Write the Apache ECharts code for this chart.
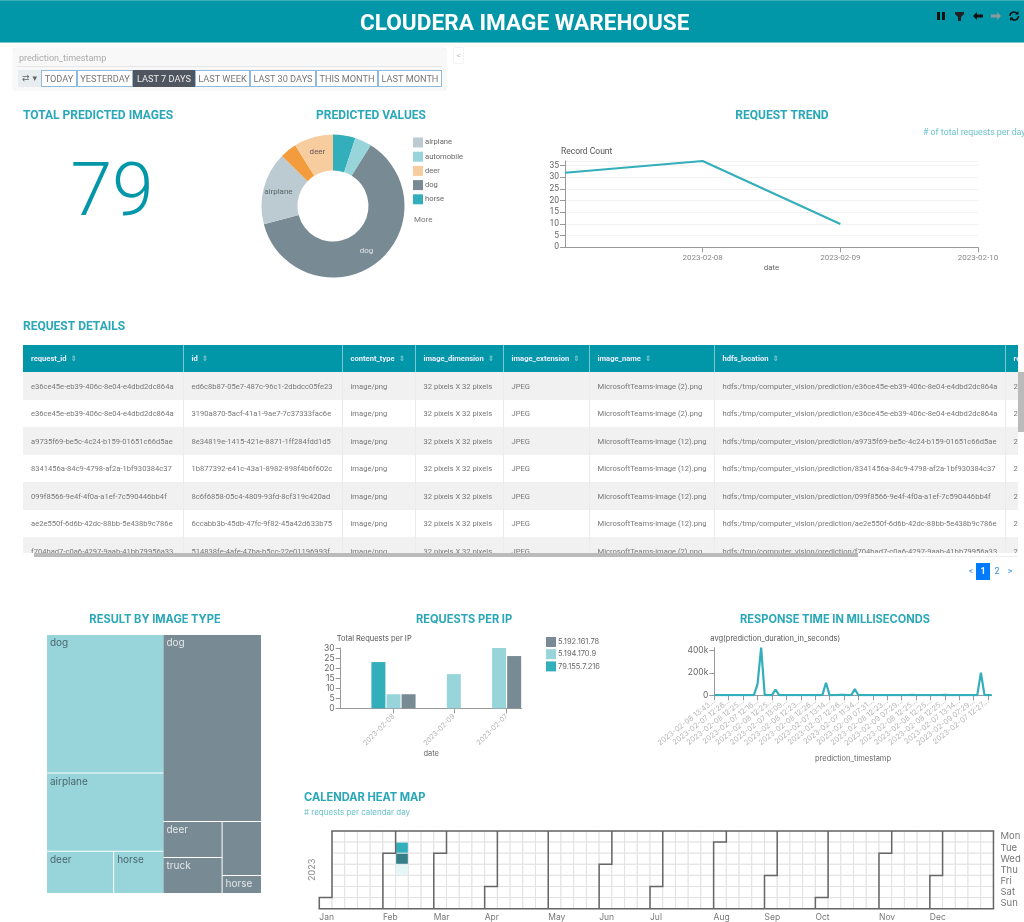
<!DOCTYPE html>
<html>
<head>
<meta charset="utf-8">
<title>Cloudera Image Warehouse</title>
<script src="https://cdn.jsdelivr.net/npm/echarts@6/dist/echarts.min.js"></script>
<style>
html, body { margin: 0; padding: 0; background: #fff; }
#page { position: relative; width: 1024px; height: 922px; overflow: hidden; font-family: Roboto, sans-serif; }
#chart { position: absolute; left: 0; top: 0; width: 1024px; height: 922px; }
#header { position: absolute; left: 0; top: 0; width: 1024px; height: 43px; background: #0297a8; border-top: 1px solid #3fb0bd; box-sizing: border-box; border-bottom: 1px solid #7cc8d1; color: #fff; font-weight: 700; font-size: 22.6px; line-height: 44px; }
#header .name { position: absolute; left: 360px; top: 0; white-space: nowrap; }
#header svg { position: absolute; left: 934px; top: 8px; }
#filter { position: absolute; left: 13px; top: 48px; width: 433px; height: 42px; background: #f8f8f8; border-radius: 3px; box-shadow: 0 0 1px #ccc; }
#filter .label { position: absolute; left: 6px; top: 5px; font-size: 9px; color: #aaa; }
#filter .rule { position: absolute; left: 4px; right: 4px; top: 18px; border-top: 1px solid #e6e6e6; }
#filter .sw { position: absolute; left: 5px; top: 22px; width: 23px; height: 17px; background: #e8edf0; color: #666; font: 9px/17px "DejaVu Sans", sans-serif; text-align: center; }
#filter .btn { position: absolute; top: 22px; height: 17px; box-sizing: border-box; border: 1px solid #8fbadb; background: #fff; color: #777; font-size: 9.2px; line-height: 15px; text-align: center; white-space: nowrap; }
#filter .btn.on { background: #4f5660; color: #eee; border-color: #4f5660; }
#collapse { position: absolute; left: 454px; top: 48px; width: 9px; height: 15px; box-shadow: 0 0 1px #bbb; color: #bbb; font-size: 8px; line-height: 15px; text-align: center; }
#tableWrap { position: absolute; left: 23px; top: 345px; width: 995px; height: 208px; overflow: hidden; }
#tableWrap table { border-collapse: collapse; table-layout: fixed; width: 1010px; font-size: 7.6px; color: #777; }
#tableWrap th { height: 27px; background: #0297a8; color: #eef; font-size: 7.6px; font-weight: 700; text-align: left; padding: 0 0 0 8px; border-right: 1px solid #7cc8d1; white-space: nowrap; overflow: hidden; }
#tableWrap th i { font-style: normal; color: #7cc8d1; margin-left: 4px; font-family: "DejaVu Sans", sans-serif; }
#tableWrap td { height: 27.5px; padding: 1px 0 0 8px; box-sizing: border-box; border-right: 1px solid #e8ecef; white-space: nowrap; overflow: hidden; }
#tableWrap tr:nth-child(even) td { background: #f1f1f1; }
#hbar { position: absolute; left: 34px; top: 553px; width: 824px; height: 4px; background: #bbb; }
#hline { position: absolute; left: 858px; top: 556px; width: 160px; height: 1px; background: #eee; }
#vbar { position: absolute; left: 1018px; top: 372px; width: 6px; height: 60px; background: #bbb; }
#pager { position: absolute; top: 563px; height: 17px; font-size: 9px; line-height: 17px; color: #3d8fe0; }
#pager span { position: absolute; top: 0; text-align: center; }
#pager .on { background: #007bff; color: #fff; font-weight: 700; width: 14px; }
</style>
</head>
<body>
<div id="page">
  <div id="chart"></div>
  <div id="header">
    <div class="name">CLOUDERA IMAGE WAREHOUSE</div>
    <svg width="90" height="14" viewBox="0 0 90 14">
      <path d="M3 3h3v8H3zM8 3h3v8H8z" fill="#111"/>
      <path d="M21 3h9v2l-3 3v4h-3V8l-3-3z" fill="#222"/>
      <path d="M39 7l4-4v2.6h6v2.8h-6V11z" fill="#111"/>
      <path d="M67 7l-4-4v2.6h-6v2.8h6V11z" fill="#8a9a9a"/>
      <path d="M76 7a4 4 0 0 1 7-2.6M84.500 7a4 4 0 0 1-7 2.600" fill="none" stroke="#111" stroke-width="1.600"/>
      <path d="M84.500 2v3.500H81zM76 12V8.500h3.500z" fill="#111"/>
    </svg>
  </div>
  <div id="filter">
    <div class="label">prediction_timestamp</div>
    <div class="rule"></div>
    <div class="sw">⇄ ▾</div>
  </div>
  <div id="collapse">&lt;</div>
  <div id="tableWrap"><table id="details"></table></div>
  <div id="hbar"></div>
  <div id="hline"></div>
  <div id="vbar"></div>
  <div id="pager" style="left:966px;width:54px">
    <span style="left:0;width:10px">&lt;</span>
    <span class="on" style="left:10px">1</span>
    <span style="left:26px;width:10px">2</span>
    <span style="left:39px;width:10px">&gt;</span>
  </div>
</div>

<script>
// ---- data ----
var filterRanges = ["TODAY", "YESTERDAY", "LAST 7 DAYS", "LAST WEEK", "LAST 30 DAYS", "THIS MONTH", "LAST MONTH"];

var totalPredicted = 79;

var pieNames = ["horse", "automobile", "dog", "airplane", "truck", "deer"];
var pieValues = [4, 3, 49, 13, 3, 7];
var pieLegend = ["airplane", "automobile", "deer", "dog", "horse"];

var trendDates = ["2023-02-07", "2023-02-08", "2023-02-09", "2023-02-10"];
var trendCounts = [32, 37, 10, null];

var tableColumns = ["request_id", "id", "content_type", "image_dimension", "image_extension", "image_name", "hdfs_location", "req"];
var requestIds = [
  "e36ce45e-eb39-406c-8e04-e4dbd2dc864a",
  "e36ce45e-eb39-406c-8e04-e4dbd2dc864a",
  "a9735f69-be5c-4c24-b159-01651c66d5ae",
  "8341456a-84c9-4798-af2a-1bf930384c37",
  "099f8566-9e4f-4f0a-a1ef-7c590446bb4f",
  "ae2e550f-6d6b-42dc-88bb-5e438b9c786e",
  "f704bad7-c0a6-4297-9aab-41bb79956a33"
];
var imageIds = [
  "ed6c8b87-05e7-487c-96c1-2dbdcc05fe23",
  "3190a870-5acf-41a1-9ae7-7c37333fac6e",
  "8e34819e-1415-421e-8871-1ff284fdd1d5",
  "1b877392-e41c-43a1-8982-898f4b6f602c",
  "8c6f6858-05c4-4809-93fd-8cf319c420ad",
  "6ccabb3b-45db-47fc-9f82-45a42d633b75",
  "514838fe-4afe-47ba-b5cc-22e01196993f"
];
var imageNames = [
  "MicrosoftTeams-image (2).png",
  "MicrosoftTeams-image (2).png",
  "MicrosoftTeams-image (12).png",
  "MicrosoftTeams-image (12).png",
  "MicrosoftTeams-image (12).png",
  "MicrosoftTeams-image (12).png",
  "MicrosoftTeams-image (2).png"
];

var treeLeftNames = ["dog", "airplane", "deer", "horse"];
var treeLeftValues = [23, 13, 4, 3];
// the treemap sort flips ties, hence automobile before deer here
var treeRightNames = ["dog", "automobile", "truck", "deer", "horse"];
var treeRightValues = [26, 3, 3, 3, 1];

var ipDates = ["2023-02-08", "2023-02-09", "2023-02-07"];
var ipNames = ["5.192.161.78", "5.194.170.9", "79.155.7.216"];
var ip5192 = [7, null, 26];
var ip5194 = [7, 17, 30];
var ip79155 = [23, null, null];

var responseTicks = [
  "2023-02-08 13:43...", "2023-02-07 12:26...", "2023-02-08 12:25...", "2023-02-07 12:16...",
  "2023-02-08 12:25...", "2023-02-07 13:09...", "2023-02-08 12:23...", "2023-02-08 12:26...",
  "2023-02-07 13:14...", "2023-02-07 12:26...", "2023-02-07 11:34...", "2023-02-09 07:31...",
  "2023-02-08 12:23...", "2023-02-09 07:29...", "2023-02-08 12:25...", "2023-02-08 12:25...",
  "2023-02-08 12:25...", "2023-02-07 13:14...", "2023-02-09 07:29...", "2023-02-07 12:27..."
];
var responseValues = [
  2000, 1500, 1000, 2000, 1500, 1000, 1500, 1000, 1200, 1000,
  1500, 2000, 100000, 425000, 1500, 1000, 1200, 52000, 1000, 1500,
  1500, 2000, 1500, 1000, 1200, 1000, 1500, 1000, 1000, 1500,
  1200, 112000, 1500, 1000, 2000, 3000, 3500, 1500, 1000, 55000,
  1000, 1200, 1000, 1500, 1000, 1000, 1200, 1500, 1000, 1000,
  1200, 1000, 1500, 1000, 2000, 4500, 1500, 1000, 1000, 1200,
  1000, 1500, 1000, 2000, 3000, 1500, 1000, 1000, 1200, 1000,
  1500, 1000, 1000, 1200, 203000, 1500, 1000, 2000
];

var calendarYear = "2023";
var calendarDays = ["2023-02-07", "2023-02-08", "2023-02-09"];
var calendarCounts = [32, 37, 10];
var dayNames = ["Sun", "Mon", "Tue", "Wed", "Thu", "Fri", "Sat"];

// ---- colours ----
var TEAL = "#33aebb";
var LIGHT = "#98d5db";
var SLATE = "#788a94";
var HEAD = "#2aa8b8";
var pieColors = { horse: TEAL, automobile: LIGHT, dog: SLATE, airplane: "#bccad1", truck: "#f39c3e", deer: "#f7cd9f" };
var pieLabelled = { dog: "#e4e8ea", airplane: "#566", deer: "#655" };
var ipColors = [SLATE, LIGHT, TEAL];

// ---- dom bits: filter bar and table ----
var btnLefts = [28, 64, 120, 182, 237, 303, 365];
var btnWidths = [36, 56, 62, 55, 66, 62, 64];
var filterEl = document.getElementById("filter");
filterRanges.forEach(function (label, i) {
  var b = document.createElement("div");
  b.className = "btn" + (label === "LAST 7 DAYS" ? " on" : "");
  b.style.left = btnLefts[i] + "px";
  b.style.width = btnWidths[i] + "px";
  b.textContent = label;
  filterEl.appendChild(b);
});

var colWidths = [160, 159, 73, 88, 86, 125, 291, 28];
var html = "<colgroup>" + colWidths.map(function (w) { return '<col style="width:' + w + 'px">'; }).join("") + "</colgroup>";
html += "<tr>" + tableColumns.map(function (c, i) {
  return "<th>" + c + (i < 7 ? "<i>⇕</i>" : "") + "</th>";
}).join("") + "</tr>";
requestIds.forEach(function (rid, i) {
  var row = [rid, imageIds[i], "image/png", "32 pixels X 32 pixels", "JPEG", imageNames[i],
    "hdfs:/tmp/computer_vision/prediction/" + rid, "2023-02-08"];
  html += "<tr>" + row.map(function (v) { return "<td>" + v + "</td>"; }).join("") + "</tr>";
});
document.getElementById("details").innerHTML = html;

// ---- bars per ip: only the dates' present ips get a slot, so groups differ in width ----
var ipSeriesValues = [ip5192, ip5194, ip79155];
var ipPoints = [[], [], []];
var ipTickAt = [];
var slot = 0;
ipDates.forEach(function (d, di) {
  slot += 2;
  var first = slot;
  for (var s = ipNames.length - 1; s >= 0; s--) {
    if (ipSeriesValues[s][di] != null) {
      ipPoints[s].push([slot + 0.5, ipSeriesValues[s][di]]);
      slot++;
    }
  }
  ipTickAt.push(first + (slot - first) / 2);
});

function heading(text, x, y, align, size, color, family, weight) {
  return {
    text: text, left: x, top: y - (size || 12) / 2, textAlign: align || "left", padding: 0,
    textStyle: { fontFamily: family || "Roboto", fontSize: size || 12, fontWeight: weight || 700, color: color || HEAD, lineHeight: size || 12 }
  };
}

var axisText = { fontFamily: "Roboto", fontSize: 8.5, color: "#666" };
var faintText = { fontFamily: "Inter", fontSize: 7.4, color: "#b5b5b5" };
var axisLine = { lineStyle: { color: "#999" } };

function treeSeries(names, values, left, width, fill, textColor) {
  return {
    type: "treemap", left: left, top: 635, width: width, height: 258,
    breadcrumb: { show: false }, roam: false, nodeClick: false, silent: true, squareRatio: 1,
    levels: [{ color: [fill], colorMappingBy: "id", itemStyle: { gapWidth: 1, borderWidth: 0 } }],
    label: { show: true, position: "insideTopLeft", distance: 3, padding: 0, formatter: "{b}", fontFamily: "Inter", fontSize: 10, color: textColor },
    data: names.map(function (n, i) {
      var item = { name: n, value: values[i] };
      if (n === "automobile") item.label = { show: false };
      return item;
    })
  };
}

var treeTotal = treeLeftValues.concat(treeRightValues).reduce(function (a, b) { return a + b; }, 0);
var treeLeftSum = treeLeftValues.reduce(function (a, b) { return a + b; }, 0);
var treeLeftWidth = 214 * treeLeftSum / treeTotal;

var chart = echarts.init(document.getElementById("chart"));
chart.setOption({
  animation: false,
  title: [
    heading("TOTAL PREDICTED IMAGES", 23, 116),
    heading("PREDICTED VALUES", 371, 116, "center"),
    heading("REQUEST TREND", 782, 116, "center"),
    heading("# of total requests per day", 923, 133, "left", 8.8, "#6cc2cc", "Roboto", 400),
    heading("REQUEST DETAILS", 23, 327),
    heading(String(totalPredicted), 112, 196, "center", 75, "#0297a8", "Roboto", 300),
    heading("More", 414, 220, "left", 8, "#777", "Roboto", 400),
    heading("RESULT BY IMAGE TYPE", 155, 620, "center", 11.1, HEAD, "Inter"),
    heading("REQUESTS PER IP", 464, 620, "center", 11.1, HEAD, "Inter"),
    heading("RESPONSE TIME IN MILLISECONDS", 835, 620, "center", 11.1, HEAD, "Inter"),
    heading("CALENDAR HEAT MAP", 304, 798, "left", 11.1, HEAD, "Inter"),
    heading("# requests per calendar day", 304, 813, "left", 8, "#6cc2cc", "Inter", 400)
  ],
  legend: [
    { left: 413, top: 137.5, orient: "vertical", itemWidth: 10, itemHeight: 10, itemGap: 4.2, icon: "rect", selectedMode: false,
      padding: 0, textStyle: { fontFamily: "Roboto", fontSize: 7.6, color: "#666", padding: [0, 0, 0, -3] }, data: pieLegend },
    { left: 546, top: 637, orient: "vertical", itemWidth: 10, itemHeight: 10, itemGap: 2.2, icon: "rect", selectedMode: false,
      padding: 0, textStyle: { fontFamily: "Inter", fontSize: 7.5, color: "#666", padding: [0, 0, 0, -3] }, data: ipNames }
  ],
  grid: [
    { left: 565, top: 161, width: 413, height: 86.3 },
    { left: 340.7, top: 648, width: 181, height: 60.3 },
    { left: 714.3, top: 647.7, width: 277.4, height: 47.6 }
  ],
  xAxis: [
    { gridIndex: 0, type: "category", boundaryGap: false, data: trendDates, name: "date", nameLocation: "middle", nameGap: 17,
      nameTextStyle: { fontFamily: "Roboto", fontSize: 8, color: "#666" }, axisLine: axisLine, axisTick: { alignWithLabel: true, lineStyle: { color: "#999" } },
      axisLabel: { showMinLabel: false, fontFamily: "Roboto", fontSize: 8, color: "#888", margin: 7 } },
    { gridIndex: 1, type: "value", min: 0, max: slot, splitLine: { show: false }, name: "date", nameLocation: "middle", nameGap: 41,
      nameTextStyle: { fontFamily: "Inter", fontSize: 7.5, color: "#666" }, axisLine: axisLine,
      axisTick: { customValues: ipTickAt, lineStyle: { color: "#999" } },
      axisLabel: { customValues: ipTickAt, rotate: 45, fontFamily: "Inter", fontSize: 7, color: "#b5b5b5", margin: 7,
        formatter: function (v) { return ipDates[ipTickAt.indexOf(v)]; } } },
    { gridIndex: 2, type: "category", boundaryGap: false,
      data: responseValues.map(function (v, i) { return i % 4 === 0 ? responseTicks[i / 4] : ""; }),
      name: "prediction_timestamp", nameLocation: "middle", nameGap: 59,
      nameTextStyle: { fontFamily: "Inter", fontSize: 7.5, color: "#666" }, axisLine: axisLine,
      axisTick: { interval: 3, lineStyle: { color: "#999" } },
      axisLabel: Object.assign({ interval: 3, rotate: 38, margin: 5 }, faintText) }
  ],
  yAxis: [
    { gridIndex: 0, type: "value", min: 0, max: 37, interval: 5, name: "Record Count", nameGap: 5,
      nameTextStyle: { fontFamily: "Roboto", fontSize: 8.5, color: "#555", align: "left", padding: [0, 0, 0, -4] },
      axisLine: { show: true, lineStyle: { color: "#999" } }, axisTick: { show: true, lineStyle: { color: "#999" } },
      axisLabel: Object.assign({ showMaxLabel: false, margin: 6 }, axisText), splitLine: { lineStyle: { color: "#f2f2f2" } } },
    { gridIndex: 1, type: "value", min: 0, max: 30, interval: 5, name: "Total Requests per IP", nameGap: 5,
      nameTextStyle: { fontFamily: "Inter", fontSize: 7.5, color: "#555", align: "left", padding: [0, 0, 0, -4] },
      axisLine: { show: true, lineStyle: { color: "#999" } }, axisTick: { show: true, lineStyle: { color: "#999" } },
      axisLabel: { fontFamily: "Inter", fontSize: 8.5, color: "#666", margin: 6 }, splitLine: { show: false } },
    { gridIndex: 2, type: "value", min: 0, max: 425000, interval: 200000, name: "avg(prediction_duration_in_seconds)", nameGap: 5,
      nameTextStyle: { fontFamily: "Inter", fontSize: 7.5, color: "#555", align: "left", padding: [0, 0, 0, -4] },
      axisLine: { show: true, lineStyle: { color: "#999" } }, axisTick: { show: true, lineStyle: { color: "#999" } },
      axisLabel: { showMaxLabel: false, fontFamily: "Inter", fontSize: 8.5, color: "#666", margin: 6,
        formatter: function (v) { return v === 0 ? "0" : v / 1000 + "k"; } }, splitLine: { show: false } }
  ],
  calendar: {
    left: 319.3, top: 831, cellSize: [12.72, 11.1], range: calendarYear, orient: "horizontal",
    itemStyle: { color: "#fff", borderColor: "#e2e2e2", borderWidth: 1 },
    splitLine: { show: true, lineStyle: { color: "#666", width: 1.5 } },
    dayLabel: { firstDay: 1, position: "end", nameMap: dayNames, margin: 7, fontFamily: "Inter", fontSize: 9.5, color: "#777" },
    monthLabel: { position: "end", align: "left", margin: 4, fontFamily: "Inter", fontSize: 8.5, color: "#777" },
    yearLabel: { position: "left", margin: 3, fontFamily: "Inter", fontSize: 9, fontWeight: 400, color: "#888" }
  },
  visualMap: {
    show: false, type: "piecewise", seriesIndex: 8,
    pieces: [
      { min: 0, max: 15, color: "#e5f6f8" },
      { min: 15, max: 35, color: "#33aebb" },
      { min: 35, color: "#377f88" }
    ]
  },
  series: [
    { type: "pie", center: [333, 206], radius: [35.5, 71.5], startAngle: 90, silent: true,
      data: pieNames.map(function (n, i) {
        return {
          name: n, value: pieValues[i], itemStyle: { color: pieColors[n] },
          label: pieLabelled[n] ? { show: true, position: "inside", fontFamily: "Roboto", fontSize: 8, color: pieLabelled[n] } : { show: false }
        };
      }) },
    { type: "line", xAxisIndex: 0, yAxisIndex: 0, data: trendCounts, symbol: "none", lineStyle: { color: TEAL, width: 2 } },
    treeSeries(treeLeftNames, treeLeftValues, 47, treeLeftWidth, LIGHT, "#4a666c"),
    treeSeries(treeRightNames, treeRightValues, 47 + treeLeftWidth, 214 - treeLeftWidth, SLATE, "#e4e8ea"),
    { type: "bar", name: ipNames[0], xAxisIndex: 1, yAxisIndex: 1, stack: "ip", barWidth: 14, itemStyle: { color: ipColors[0] }, data: ipPoints[0] },
    { type: "bar", name: ipNames[1], xAxisIndex: 1, yAxisIndex: 1, stack: "ip", barWidth: 14, itemStyle: { color: ipColors[1] }, data: ipPoints[1] },
    { type: "bar", name: ipNames[2], xAxisIndex: 1, yAxisIndex: 1, stack: "ip", barWidth: 14, itemStyle: { color: ipColors[2] }, data: ipPoints[2] },
    { type: "line", xAxisIndex: 2, yAxisIndex: 2, data: responseValues, symbol: "none", lineStyle: { color: TEAL, width: 2.2 } },
    { type: "heatmap", coordinateSystem: "calendar", silent: true,
      data: calendarDays.map(function (d, i) { return [d, calendarCounts[i]]; }) }
  ]
});
</script>
</body>
</html>
